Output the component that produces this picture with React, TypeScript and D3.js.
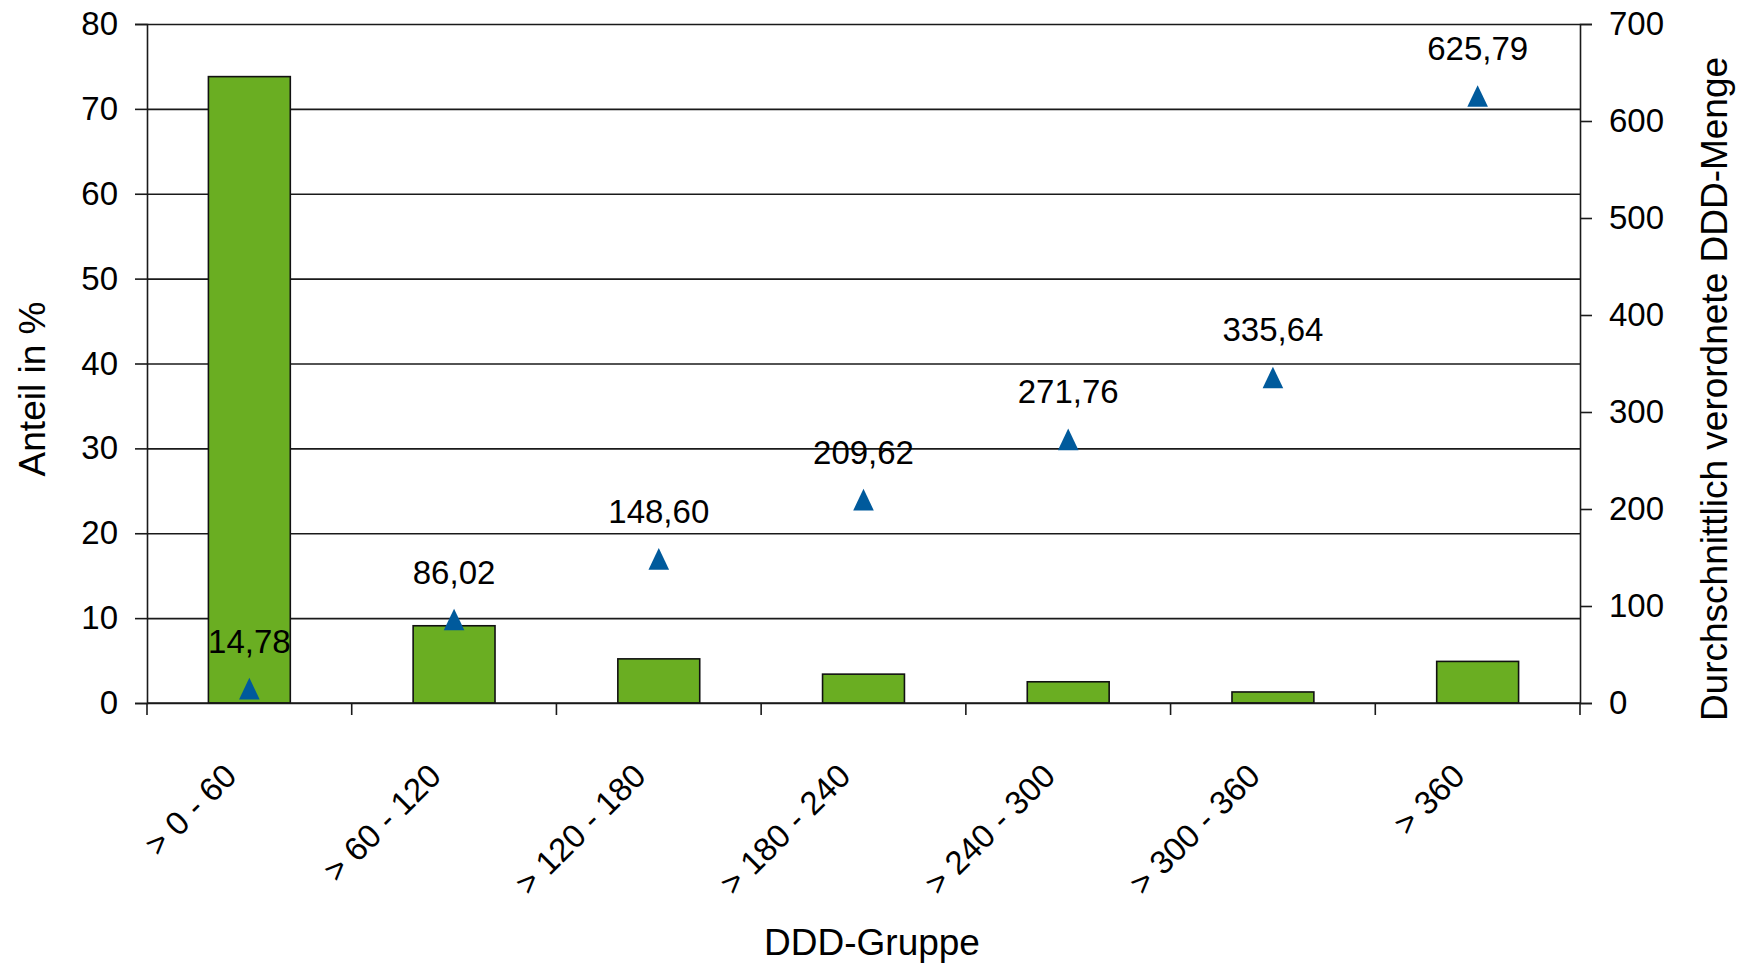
import React, { useEffect, useRef } from "react";
import * as d3 from "d3";

// DDD groups and the two series
const categories = [
  "> 0 - 60",
  "> 60 - 120",
  "> 120 - 180",
  "> 180 - 240",
  "> 240 - 300",
  "> 300 - 360",
  "> 360",
];
const sharePercent = [73.8, 9.1, 5.2, 3.4, 2.5, 1.3, 4.9];
const meanDDD = [14.78, 86.02, 148.6, 209.62, 271.76, 335.64, 625.79];
const leftTicks = [0, 10, 20, 30, 40, 50, 60, 70, 80];
const rightTicks = [0, 100, 200, 300, 400, 500, 600, 700];

const WIDTH = 1743;
const HEIGHT = 966;
const FONT = "'Liberation Sans', Arial, Helvetica, sans-serif";

export default function App() {
  const svgRef = useRef<SVGSVGElement | null>(null);

  useEffect(() => {
    if (!svgRef.current) return;
    const svg = d3.select(svgRef.current);
    svg.selectAll("*").remove();

    const left = 147;
    const right = 1580;
    const top = 24;
    const bottom = 703;

    const x = d3.scaleBand<string>().domain(categories).range([left, right]);
    const bar = d3
      .scaleBand<string>()
      .domain(["bar"])
      .range([0, x.bandwidth()])
      .paddingInner(0.6)
      .paddingOuter(0.3);
    const yLeft = d3.scaleLinear().domain([0, 80]).range([bottom, top]);
    const yRight = d3.scaleLinear().domain([0, 700]).range([bottom, top]);

    svg
      .append("rect")
      .attr("width", WIDTH)
      .attr("height", HEIGHT)
      .attr("fill", "#fff");

    // gridlines
    const grid = svg
      .append("g")
      .attr("transform", `translate(${left},0)`)
      .call(
        d3
          .axisLeft(yLeft)
          .tickValues(leftTicks)
          .tickSize(-(right - left))
          .tickFormat(() => "")
      );
    grid.select(".domain").remove();
    grid.selectAll("line").attr("stroke", "#1a1a1a").attr("stroke-width", 1.6);

    // bars
    svg
      .append("g")
      .selectAll("rect")
      .data(categories)
      .enter()
      .append("rect")
      .attr("x", (d) => (x(d) ?? 0) + (bar("bar") ?? 0))
      .attr("y", (d, i) => yLeft(sharePercent[i]))
      .attr("width", bar.bandwidth())
      .attr("height", (d, i) => bottom - yLeft(sharePercent[i]))
      .attr("fill", "#6aae22")
      .attr("stroke", "#111")
      .attr("stroke-width", 1.6);

    // left axis
    const gl = svg
      .append("g")
      .attr("transform", `translate(${left},0)`)
      .call(d3.axisLeft(yLeft).tickValues(leftTicks).tickSize(12).tickPadding(17));
    // right axis
    const gr = svg
      .append("g")
      .attr("transform", `translate(${right},0)`)
      .call(d3.axisRight(yRight).tickValues(rightTicks).tickSize(12).tickPadding(17));
    // x axis
    const gx = svg
      .append("g")
      .attr("transform", `translate(0,${bottom})`)
      .call(
        d3
          .axisBottom(x)
          .tickValues([])
          .tickSizeOuter(0)
      );
    gx.selectAll(".tick").remove();
    gx.select(".domain").attr("d", `M${left},0H${right}`);
    svg
      .append("g")
      .selectAll("line")
      .data([...categories.map((c) => x(c) ?? 0), right])
      .enter()
      .append("line")
      .attr("x1", (d) => d)
      .attr("x2", (d) => d)
      .attr("y1", bottom)
      .attr("y2", bottom + 12)
      .attr("stroke", "#1a1a1a")
      .attr("stroke-width", 1.6);

    [gl, gr, gx].forEach((g) => {
      g.selectAll(".domain").attr("stroke", "#1a1a1a").attr("stroke-width", 1.6);
      g.selectAll(".tick line").attr("stroke", "#1a1a1a").attr("stroke-width", 1.6);
      g.selectAll(".tick text")
        .attr("font-family", FONT)
        .attr("font-size", 33)
        .attr("fill", "#000");
    });

    // category labels, rotated
    svg
      .append("g")
      .selectAll("text")
      .data(categories)
      .enter()
      .append("text")
      .attr(
        "transform",
        (d) => `translate(${(x(d) ?? 0) + x.bandwidth() / 2 - 11},${bottom + 75}) rotate(-45)`
      )
      .attr("text-anchor", "end")
      .attr("font-family", FONT)
      .attr("font-size", 33)
      .attr("fill", "#000")
      .text((d) => d);

    // triangle markers
    const cx = (i: number) => (x(categories[i]) ?? 0) + x.bandwidth() / 2;
    const tri = d3.path();
    tri.moveTo(0, -10.8);
    tri.lineTo(10.3, 10.8);
    tri.lineTo(-10.3, 10.8);
    tri.closePath();
    svg
      .append("g")
      .selectAll("path")
      .data(meanDDD)
      .enter()
      .append("path")
      .attr("d", tri.toString())
      .attr("transform", (d, i) => `translate(${cx(i)},${yRight(d)})`)
      .attr("fill", "#005a9c");

    // value labels
    svg
      .append("g")
      .selectAll("text")
      .data(meanDDD)
      .enter()
      .append("text")
      .attr("x", (d, i) => cx(i))
      .attr("y", (d) => yRight(d) - 36)
      .attr("text-anchor", "middle")
      .attr("font-family", FONT)
      .attr("font-size", 33)
      .attr("fill", "#000")
      .text((d) => d.toFixed(2).replace(".", ","));

    // axis titles
    svg
      .append("text")
      .attr("transform", `translate(45,389) rotate(-90)`)
      .attr("text-anchor", "middle")
      .attr("font-family", FONT)
      .attr("font-size", 37)
      .text("Anteil in %");
    svg
      .append("text")
      .attr("transform", `translate(1727,389) rotate(-90)`)
      .attr("text-anchor", "middle")
      .attr("font-family", FONT)
      .attr("font-size", 37)
      .text("Durchschnittlich verordnete DDD-Menge");
    svg
      .append("text")
      .attr("x", 872)
      .attr("y", 955)
      .attr("text-anchor", "middle")
      .attr("font-family", FONT)
      .attr("font-size", 37)
      .text("DDD-Gruppe");
  }, []);

  return (
    <svg
      ref={svgRef}
      width={WIDTH}
      height={HEIGHT}
      style={{ position: "absolute", left: 0, top: 0, display: "block" }}
    />
  );
}
